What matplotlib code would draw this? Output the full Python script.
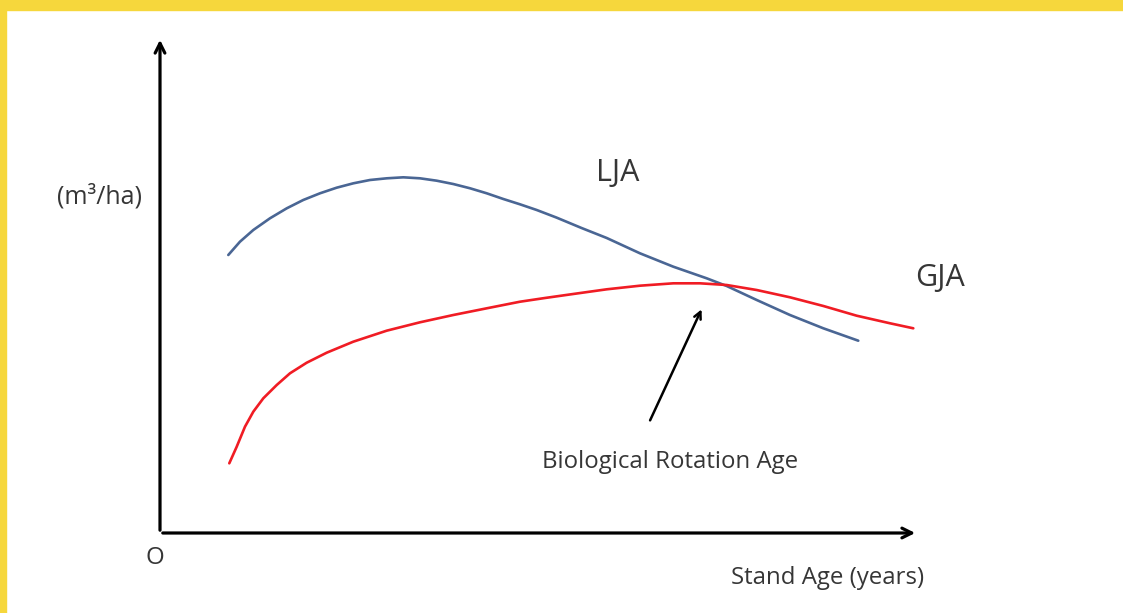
import matplotlib.pyplot as plt
from matplotlib.patches import Rectangle

plt.rcParams['font.family'] = ['Open Sans', 'DejaVu Sans']

# stand age (0-100 scale) and volume (0-100 scale)
lja_age = [9.01, 10.55, 12.31, 14.51, 16.72, 18.90, 21.11, 23.31, 25.50, 27.70, 29.91,
           32.10, 34.30, 36.50, 38.69, 40.90, 43.10, 45.29, 47.49, 49.70, 52.30, 55.60,
           58.93, 63.32, 67.72, 72.12, 74.76, 78.72, 83.11, 87.51, 92.12]
lja_vol = [56.05, 58.73, 61.09, 63.45, 65.46, 67.14, 68.49, 69.62, 70.50, 71.17, 71.51,
           71.71, 71.51, 71.03, 70.36, 69.50, 68.49, 67.34, 66.27, 65.12, 63.60, 61.50,
           59.48, 56.39, 53.69, 51.35, 49.80, 46.98, 43.95, 41.27, 38.77]

gja_age = [9.14, 10.12, 11.21, 12.31, 13.63, 15.40, 17.15, 19.35, 21.99, 25.50, 29.91,
           34.30, 38.69, 43.10, 47.49, 50.79, 54.53, 58.93, 63.32, 67.72, 71.24, 74.76,
           78.72, 83.11, 87.51, 91.91, 96.31, 99.38]
gja_vol = [14.05, 17.40, 21.43, 24.46, 27.16, 29.84, 32.20, 34.33, 36.35, 38.57, 40.79,
           42.48, 43.95, 45.30, 46.63, 47.38, 48.19, 49.13, 49.86, 50.34, 50.34, 50.00,
           48.99, 47.52, 45.77, 43.81, 42.28, 41.27]

bra_tip = (71.6, 45.6)
bra_tail = (64.5, 22.2)

W, H = 1123, 613
fig = plt.figure(figsize=(W / 100, H / 100), dpi=100)
fig.patch.set_facecolor('white')

# yellow frame (top and left strips)
fig.patches.append(Rectangle((0, 1 - 10 / H), 1, 10 / H, transform=fig.transFigure,
                             color='#F6D73C', zorder=0))
fig.patches.append(Rectangle((0, 0), 6 / W, 1, transform=fig.transFigure,
                             color='#F6D73C', zorder=0))

ax = fig.add_axes([160 / W, (H - 533) / H, (918 - 160) / W, (533 - 37) / H])
ax.set_xlim(0, 100)
ax.set_ylim(0, 100)
ax.axis('off')

# axes drawn as arrows
axis_arrow = dict(arrowstyle='->,head_length=0.7,head_width=0.35', color='black', lw=2.3)
ax.annotate('', xy=(1.0, 0), xytext=(0, 0), xycoords='axes fraction',
            arrowprops=axis_arrow, annotation_clip=False)
ax.annotate('', xy=(0, 1.0), xytext=(0, 0), xycoords='axes fraction',
            arrowprops=axis_arrow, annotation_clip=False)

ax.plot(lja_age, lja_vol, color='#4A6694', lw=1.9, solid_capstyle='round', solid_joinstyle='round')
ax.plot(gja_age, gja_vol, color='#F01C24', lw=1.9, solid_capstyle='round', solid_joinstyle='round')

ax.annotate('', xy=bra_tip, xytext=bra_tail,
            arrowprops=dict(arrowstyle='->,head_length=0.5,head_width=0.25', color='black', lw=1.8))

txt = dict(color='#363636', fontsize=17.3, ha='center', va='center')
fig.text(99 / W, 1 - 197 / H, '(m³/ha)', **dict(txt, fontsize=18))
fig.text(618 / W, 1 - 173 / H, 'LJA', **dict(txt, fontsize=22))
fig.text(940 / W, 1 - 278 / H, 'GJA', **dict(txt, fontsize=22))
fig.text(155 / W, 1 - 558 / H, 'O', **txt)
fig.text(670 / W, 1 - 462 / H, 'Biological Rotation Age', **txt)
fig.text(828 / W, 1 - 578 / H, 'Stand Age (years)', **txt)

fig.savefig('out.png', dpi=100)
